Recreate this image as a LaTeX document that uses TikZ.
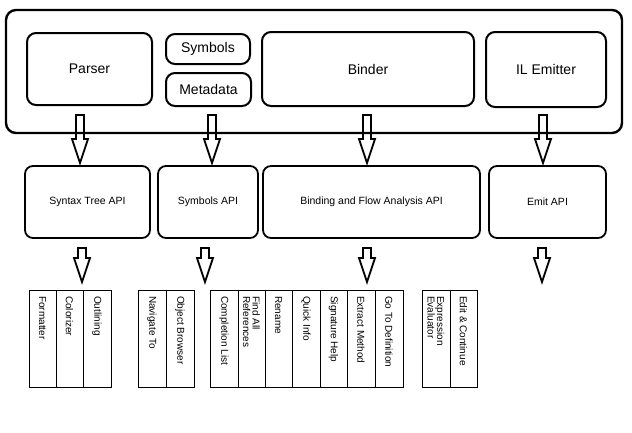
\documentclass[tikz,border=0pt]{standalone}
\usepackage{fontspec}
\setmainfont{Liberation Sans}
\begin{document}
\begin{tikzpicture}[x=1pt,y=-1pt,
  big/.style={draw,line width=2.4pt,rounded corners=10pt},
  comp/.style={draw,line width=2pt,rounded corners=9pt,font=\fontsize{14}{16}\selectfont},
  api/.style={draw,line width=1.8pt,rounded corners=8pt,font=\fontsize{10.5}{12}\selectfont},
  blk/.style={draw,line width=1.8pt},
  lbl/.style={rotate=-90,anchor=west,align=left,font=\fontsize{10}{9.5}\selectfont,inner sep=0pt}]
\useasboundingbox (0,0) rectangle (632,432);
\newcommand{\barrow}[3]{% x, ytop, ytip
  \draw[blk] (#1-4,#2) -- (#1+4,#2) -- (#1+4,#3-24) -- (#1+8,#3-24) -- (#1,#3) -- (#1-8,#3-24) -- (#1-4,#3-24) -- cycle;}
\node[big,minimum width=616,minimum height=123] (top) at (314,71.5) {};
\node[comp,minimum width=125,minimum height=72] (parser) at (89.5,69) {Parser};
\node[comp,minimum width=84,minimum height=30] (sym) at (208,49) {Symbols};
\node[comp,minimum width=85,minimum height=33] (meta) at (208.5,89.5) {Metadata};
\node[comp,minimum width=212,minimum height=74] (binder) at (368,69) {Binder};
\node[comp,minimum width=120,minimum height=75] (il) at (546,69.5) {IL Emitter};
\node[api,minimum width=125,minimum height=72] (sta) at (87.5,202) {Syntax Tree API};
\node[api,minimum width=100,minimum height=72] (syma) at (208,202) {Symbols API};
\node[api,minimum width=217,minimum height=72] (bfa) at (371.5,202) {Binding and Flow Analysis API};
\node[api,minimum width=117,minimum height=72] (ema) at (547.5,202) {Emit API};
\barrow{80}{115}{163}
\barrow{212}{115}{163}
\barrow{367}{115}{163}
\barrow{543}{115}{163}
\barrow{82}{248}{282}
\barrow{205}{248}{282}
\barrow{367}{248}{282}
\barrow{542}{248}{282}
\foreach \a/\b/\t in {29/56/Formatter,56/83/Colorizer,83/111/Outlining,
  138/166/Navigate To,166/194/Object Browser,
  210/238/Completion List,238/265/{Find All\\References},265/292/Rename,292/320/Quick Info,320/347/Signature Help,347/375/Extract Method,375/403/Go To Definition,
  422/450/{Expression\\Evaluator},450/477/Edit \& Continue}{
  \draw[line width=0.6pt] (\a,290) rectangle (\b,387);
  \node[lbl] at ({(\a+\b)/2},296) {\t};
}
\end{tikzpicture}
\end{document}
